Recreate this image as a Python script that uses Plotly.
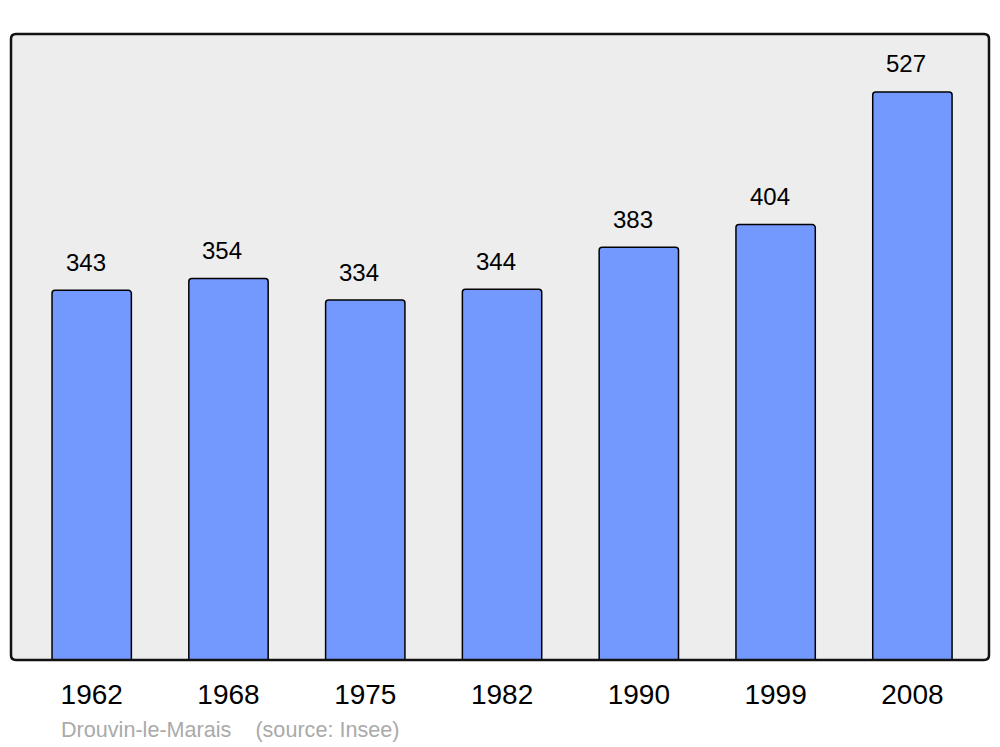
import plotly.graph_objects as go

years = ["1962", "1968", "1975", "1982", "1990", "1999", "2008"]
population = [343, 354, 334, 344, 383, 404, 527]
source_text = "Drouvin-le-Marais\u00a0\u00a0\u00a0\u00a0(source: Insee)"

FONT = "Liberation Sans, Arial, sans-serif"
xs = list(range(len(years)))

fig = go.Figure()
fig.add_trace(go.Bar(
    x=xs, y=population, width=0.58,
    marker=dict(color="#7399ff", line=dict(color="#000000", width=1.5), cornerradius=3),
    hoverinfo="skip",
))

for x, v in zip(xs, population):
    fig.add_annotation(x=x, y=v, text=str(v), showarrow=False, yanchor="middle",
                       yshift=28, xshift=-6,
                       font=dict(family=FONT, size=24, color="#000000"))

fig.add_annotation(xref="paper", yref="paper", x=0.049, y=-0.1118, xanchor="left",
                   yanchor="middle", text=source_text, showarrow=False,
                   font=dict(family=FONT, size=21.6, color="#aaaaaa"))

# rounded plot border
rx, ry = 5 / 978, 5 / 626
path = (f"M {rx},0 L {1-rx},0 Q 1,0 1,{ry} L 1,{1-ry} Q 1,1 {1-rx},1 "
        f"L {rx},1 Q 0,1 0,{1-ry} L 0,{ry} Q 0,0 {rx},0 Z")
fig.add_shape(type="path", xref="paper", yref="paper", path=path,
              line=dict(color="#111111", width=2.5), layer="above")

fig.update_layout(
    width=1000, height=747,
    margin=dict(l=11, r=11, t=34, b=87),
    paper_bgcolor="#ffffff", plot_bgcolor="#ededed",
    showlegend=False,
    xaxis=dict(range=[-0.59, 6.56], tickvals=xs, ticktext=years, showgrid=False,
               zeroline=False, showline=False, ticks="", ticklabelstandoff=15,
               tickfont=dict(family=FONT, size=28, color="#000000"), fixedrange=True),
    yaxis=dict(range=[0, 580.8], showgrid=False, zeroline=False, showline=False,
               showticklabels=False, ticks="", fixedrange=True),
)

fig.write_html("out.html", config={"displayModeBar": False},
               post_script="document.body.style.margin='0';document.body.style.overflow='hidden';")
